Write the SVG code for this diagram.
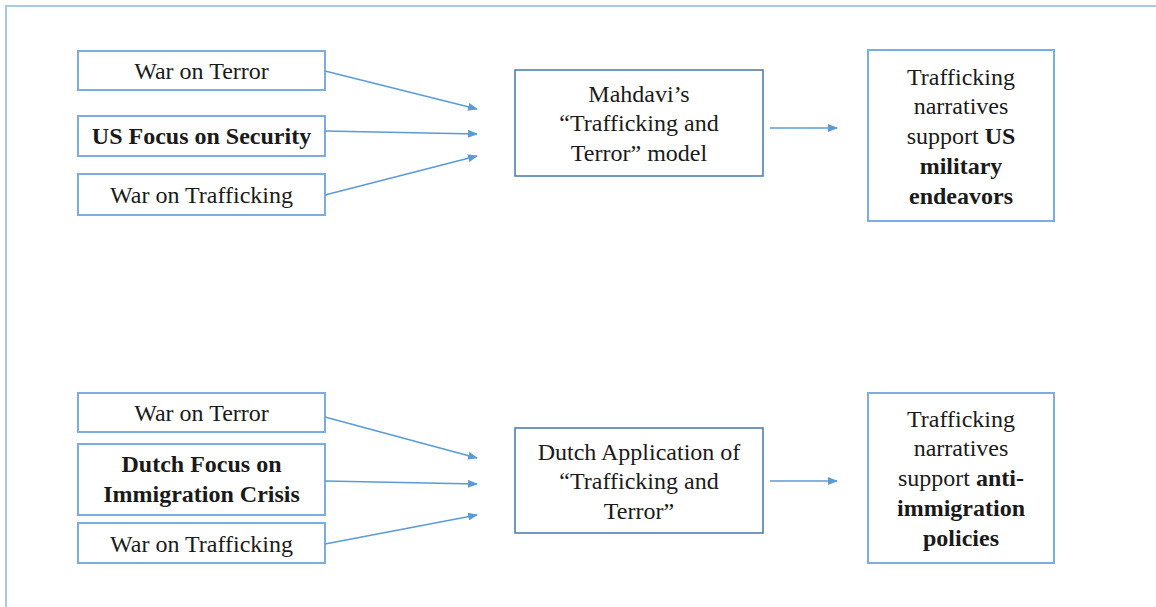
<svg xmlns="http://www.w3.org/2000/svg" width="1156" height="607" viewBox="0 0 1156 607">
<style>
  .in { fill: #ffffff; stroke: #7aaee3; stroke-width: 2; }
  .mid { fill: #ffffff; stroke: #4f7fb0; stroke-width: 1.6; }
  .out { fill: #ffffff; stroke: #7aaee3; stroke-width: 2; }
  text { font-family: 'Liberation Serif', 'Times New Roman', serif; font-size: 24px; fill: #1a1a1a; text-anchor: middle; }
  .b { font-weight: bold; }
  .conn line { stroke: #5b9bd5; stroke-width: 1.6; marker-end: url(#ah); }
</style>
<defs>
  <marker id="ah" markerWidth="10" markerHeight="8" refX="9" refY="4" orient="auto" markerUnits="userSpaceOnUse">
    <path d="M0,0 L10,4 L0,8 Z" fill="#5b9bd5"/>
  </marker>
</defs>
<rect width="1156" height="607" fill="#ffffff"/>
<path d="M6,607 V6 H1156" fill="none" stroke="#a6caef" stroke-width="2"/>

<g id="top-war-terror"><rect class="in" x="78" y="51" width="247" height="39"/><text x="201.5" y="79">War on Terror</text></g>
<g id="top-us-focus"><rect class="in" x="78" y="116" width="247" height="40"/><text class="b" x="201.5" y="144">US Focus on Security</text></g>
<g id="top-war-trafficking"><rect class="in" x="78" y="174" width="247" height="41"/><text x="201.5" y="203">War on Trafficking</text></g>
<g id="top-model"><rect class="mid" x="515" y="70" width="248" height="106"/>
  <text x="639" y="102">Mahdavi’s</text>
  <text x="639" y="131">“Trafficking and</text>
  <text x="639" y="161">Terror” model</text></g>
<g id="top-outcome"><rect class="out" x="868" y="50" width="186" height="171"/>
  <text x="961" y="85">Trafficking</text>
  <text x="961" y="114">narratives</text>
  <text x="961" y="144">support <tspan class="b">US</tspan></text>
  <text class="b" x="961" y="174">military</text>
  <text class="b" x="961" y="204">endeavors</text></g>

<g id="bot-war-terror"><rect class="in" x="78" y="393" width="247" height="39"/><text x="201.5" y="421">War on Terror</text></g>
<g id="bot-dutch-focus"><rect class="in" x="78" y="444" width="247" height="71"/>
  <text class="b" x="201.5" y="472">Dutch Focus on</text>
  <text class="b" x="201.5" y="502">Immigration Crisis</text></g>
<g id="bot-war-trafficking"><rect class="in" x="78" y="523" width="247" height="40"/><text x="201.5" y="552">War on Trafficking</text></g>
<g id="bot-model"><rect class="mid" x="515" y="428" width="248" height="105"/>
  <text x="639" y="460">Dutch Application of</text>
  <text x="639" y="489">“Trafficking and</text>
  <text x="639" y="519">Terror”</text></g>
<g id="bot-outcome"><rect class="out" x="868" y="393" width="186" height="170"/>
  <text x="961" y="427">Trafficking</text>
  <text x="961" y="456">narratives</text>
  <text x="961" y="486">support <tspan class="b">anti-</tspan></text>
  <text class="b" x="961" y="516">immigration</text>
  <text class="b" x="961" y="546">policies</text></g>

<g id="connectors" class="conn">
  <line x1="325" y1="71" x2="477" y2="109"/>
  <line x1="325" y1="131" x2="477" y2="134"/>
  <line x1="325" y1="195" x2="477" y2="156"/>
  <line x1="770" y1="128" x2="837" y2="128"/>
  <line x1="325" y1="417" x2="477" y2="458"/>
  <line x1="325" y1="481" x2="477" y2="484"/>
  <line x1="325" y1="544" x2="477" y2="515"/>
  <line x1="770" y1="481" x2="837" y2="481"/>
</g>
</svg>
